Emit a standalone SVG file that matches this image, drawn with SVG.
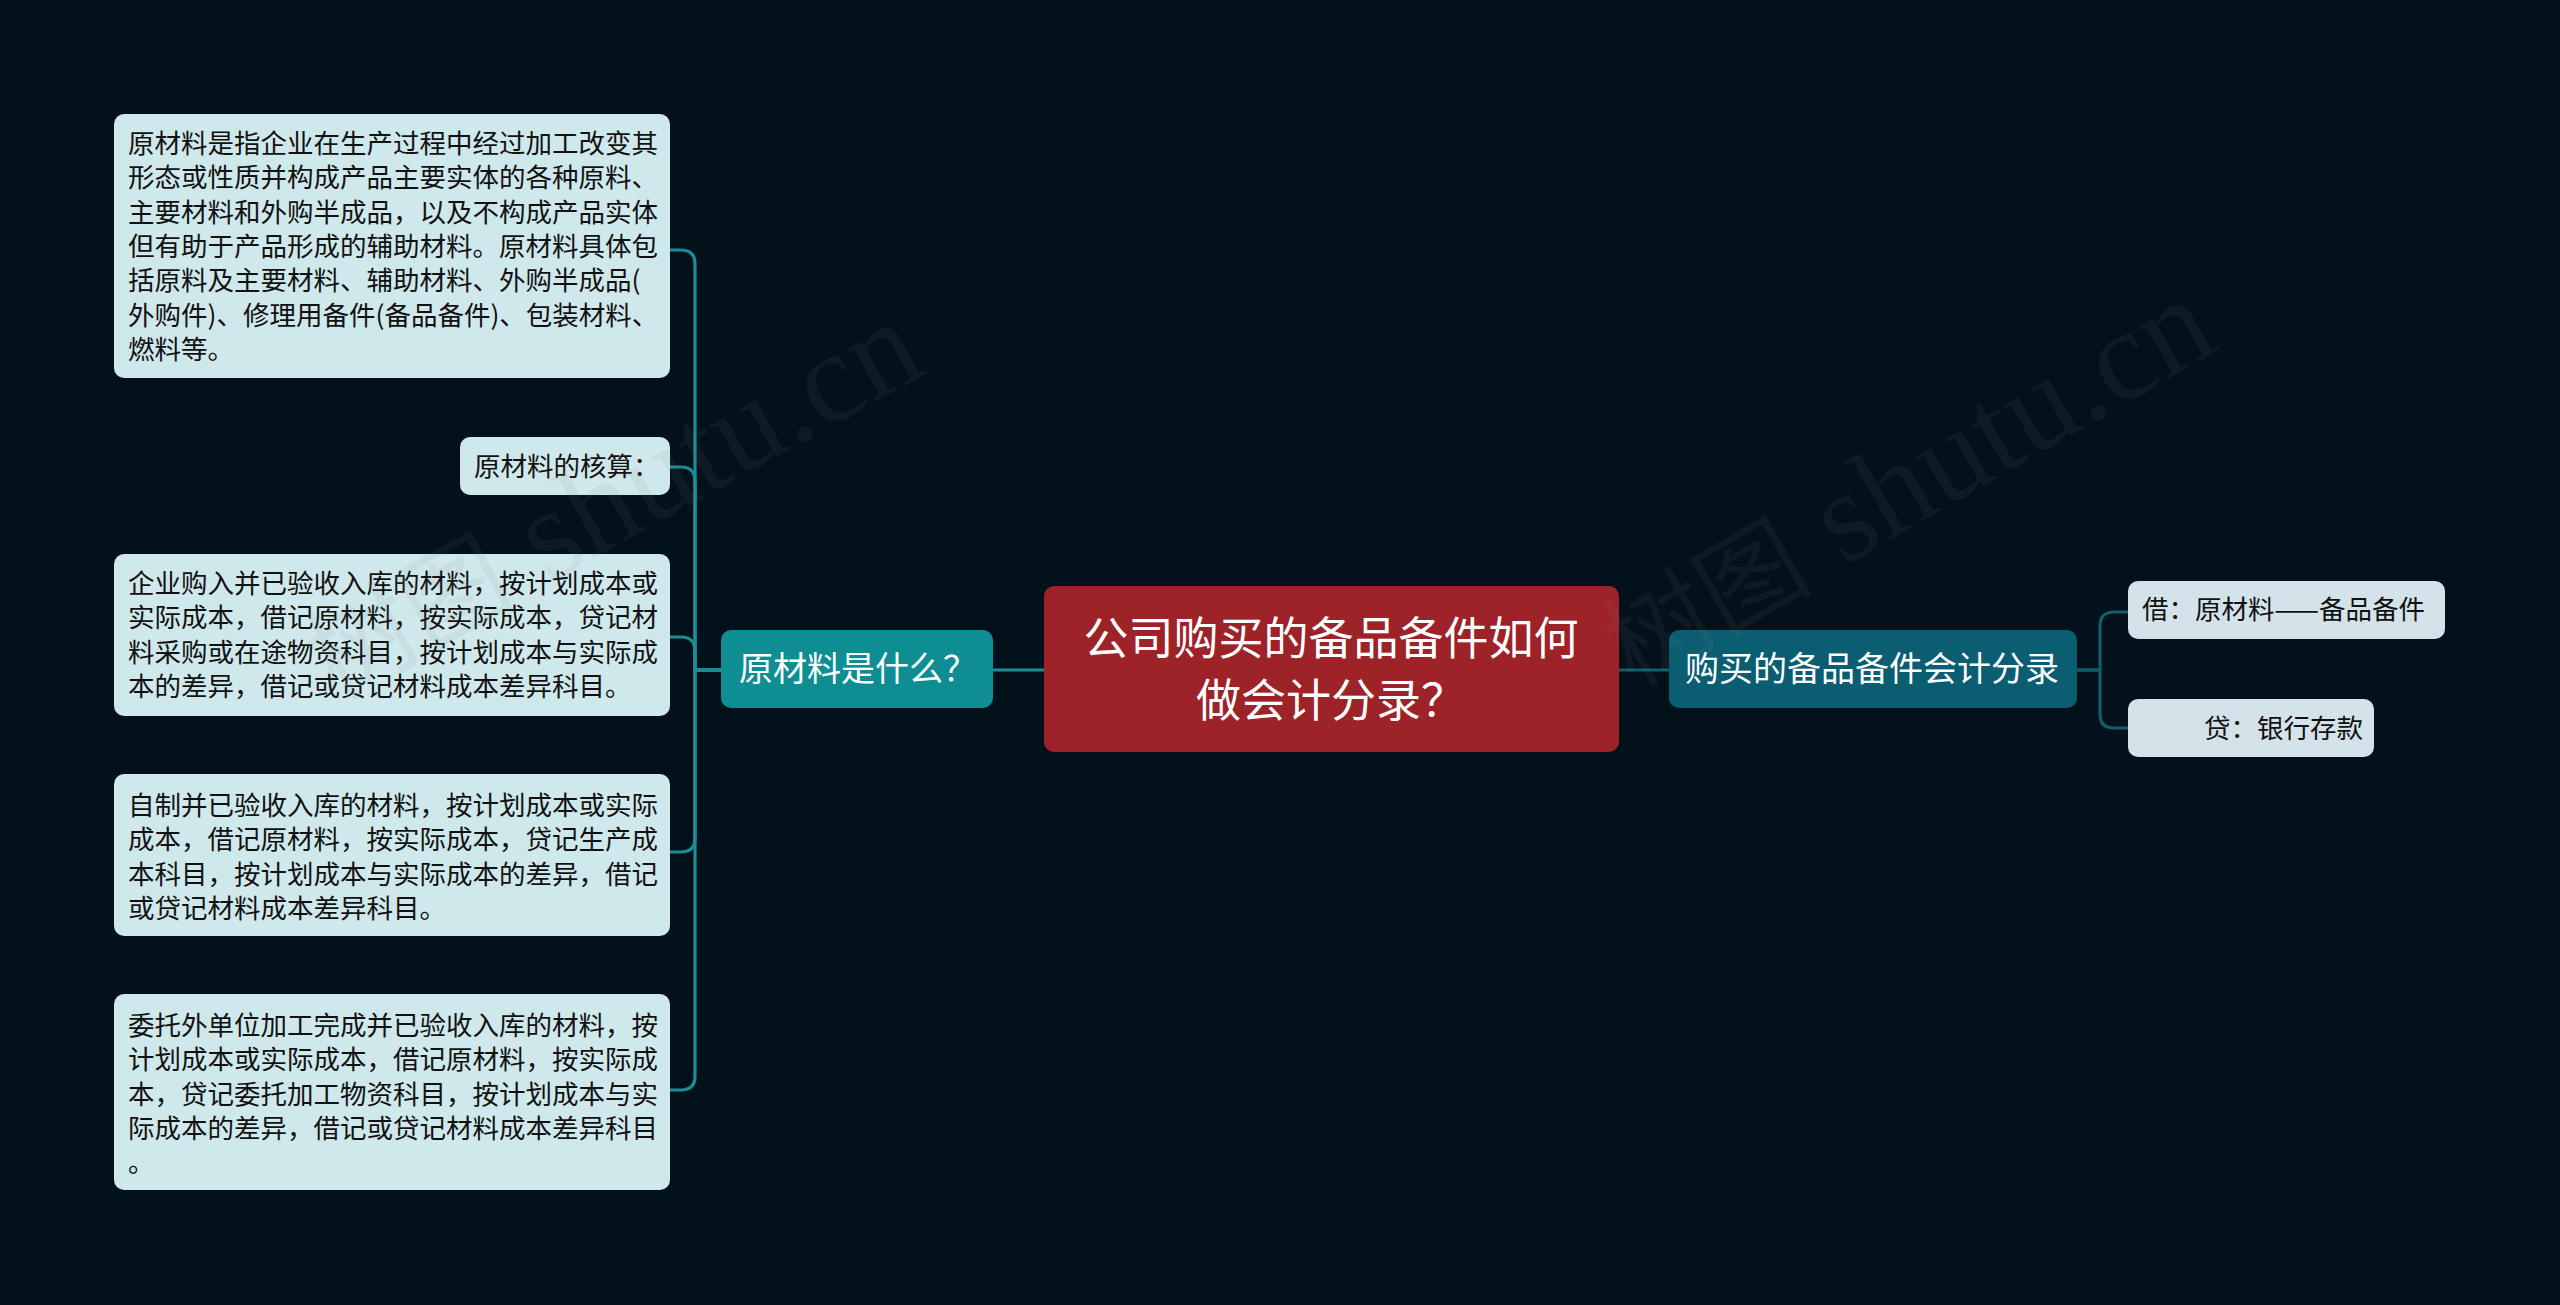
<svg xmlns="http://www.w3.org/2000/svg" width="2560" height="1305" viewBox="0 0 2560 1305">
<defs>
<style>
.bg{fill:#03111a}
.leaf{fill:#cee8eb}
.leafr{fill:#d4e3e9}
.lt{font-family:"Noto Sans CJK SC","Noto Sans",sans-serif;font-size:26.5px;fill:#111111}
.conL{fill:none;stroke:#1c8d97;stroke-width:3.2}
.conR{fill:none;stroke:#125c6c;stroke-width:3.2}
.wt{font-family:"Liberation Serif","Noto Sans CJK SC",serif;font-size:130px;fill:#8a8a8a;fill-opacity:0.09}
</style>
</defs>
<rect class="bg" x="0" y="0" width="2560" height="1305"/>

<g id="connectors">
<path class="conL" d="M1044 670 H993"/>
<path class="conL" d="M721 670 H695 V264 Q695 250 681 250 H670"/>
<path class="conL" d="M721 670 H695 V481 Q695 467 681 467 H670"/>
<path class="conL" d="M721 670 H695 V651 Q695 637 681 637 H670"/>
<path class="conL" d="M721 670 H695 V838 Q695 852 681 852 H670"/>
<path class="conL" d="M721 670 H695 V1076 Q695 1090 681 1090 H670"/>
<path class="conR" d="M1619 670 H1669"/>
<path class="conR" d="M2077 670 H2100 V626 Q2100 612 2114 612 H2128"/>
<path class="conR" d="M2077 670 H2100 V714 Q2100 728 2114 728 H2128"/>
</g>

<g id="center">
<rect x="1044" y="586" width="575" height="166" rx="10" fill="#9d2329"/>
<text font-family="Noto Sans CJK SC,sans-serif" font-size="45" fill="#ffffff" text-anchor="middle"><tspan x="1331" y="655">公司购买的备品备件如何</tspan><tspan x="1331" y="717">做会计分录？</tspan></text>
</g>

<g id="n-what">
<rect x="721" y="630" width="272" height="78" rx="10" fill="#0e8e93"/>
<text x="739" y="681" font-family="Noto Sans CJK SC,sans-serif" font-size="34" fill="#ffffff">原材料是什么？</text>
</g>

<g id="n-entry">
<rect x="1669" y="630" width="408" height="78" rx="10" fill="#0b5d72"/>
<text x="1685" y="681" font-family="Noto Sans CJK SC,sans-serif" font-size="34" fill="#ffffff">购买的备品备件会计分录</text>
</g>

<g id="leaf1">
<rect class="leaf" x="114" y="114" width="556" height="264" rx="10"/>
<text class="lt"><tspan x="128" y="153">原材料是指企业在生产过程中经过加工改变其</tspan><tspan x="128" y="187.3">形态或性质并构成产品主要实体的各种原料、</tspan><tspan x="128" y="221.6">主要材料和外购半成品，以及不构成产品实体</tspan><tspan x="128" y="256">但有助于产品形成的辅助材料。原材料具体包</tspan><tspan x="128" y="290.2">括原料及主要材料、辅助材料、外购半成品(</tspan><tspan x="128" y="324.5">外购件)、修理用备件(备品备件)、包装材料、</tspan><tspan x="128" y="358.8">燃料等。</tspan></text>
</g>

<g id="leaf2">
<rect class="leaf" x="460" y="437" width="210" height="58" rx="10"/>
<text class="lt" x="474" y="476">原材料的核算：</text>
</g>

<g id="leaf3">
<rect class="leaf" x="114" y="554" width="556" height="162" rx="10"/>
<text class="lt"><tspan x="128" y="593">企业购入并已验收入库的材料，按计划成本或</tspan><tspan x="128" y="627.3">实际成本，借记原材料，按实际成本，贷记材</tspan><tspan x="128" y="661.6">料采购或在途物资科目，按计划成本与实际成</tspan><tspan x="128" y="696">本的差异，借记或贷记材料成本差异科目。</tspan></text>
</g>

<g id="leaf4">
<rect class="leaf" x="114" y="774" width="556" height="162" rx="10"/>
<text class="lt"><tspan x="128" y="815">自制并已验收入库的材料，按计划成本或实际</tspan><tspan x="128" y="849.3">成本，借记原材料，按实际成本，贷记生产成</tspan><tspan x="128" y="883.6">本科目，按计划成本与实际成本的差异，借记</tspan><tspan x="128" y="918">或贷记材料成本差异科目。</tspan></text>
</g>

<g id="leaf5">
<rect class="leaf" x="114" y="994" width="556" height="196" rx="10"/>
<text class="lt"><tspan x="128" y="1035">委托外单位加工完成并已验收入库的材料，按</tspan><tspan x="128" y="1069.3">计划成本或实际成本，借记原材料，按实际成</tspan><tspan x="128" y="1103.6">本，贷记委托加工物资科目，按计划成本与实</tspan><tspan x="128" y="1138">际成本的差异，借记或贷记材料成本差异科目</tspan><tspan x="128" y="1172.2">。</tspan></text>
</g>

<g id="leaf-debit">
<rect class="leafr" x="2128" y="581" width="317" height="58" rx="10"/>
<text class="lt" x="2142" y="619">借：原材料——备品备件</text>
</g>

<g id="leaf-credit">
<rect class="leafr" x="2128" y="699" width="246" height="58" rx="10"/>
<text class="lt" x="2204" y="738">贷：银行存款</text>
</g>

<g id="watermark">
<text class="wt" transform="translate(545,585) rotate(-29)" x="-240" y="0"><tspan font-size="105">树图</tspan> shutu.cn</text>
<text class="wt" transform="translate(1841,568) rotate(-30)" x="-240" y="0"><tspan font-size="105">树图</tspan> shutu.cn</text>
</g>
</svg>
